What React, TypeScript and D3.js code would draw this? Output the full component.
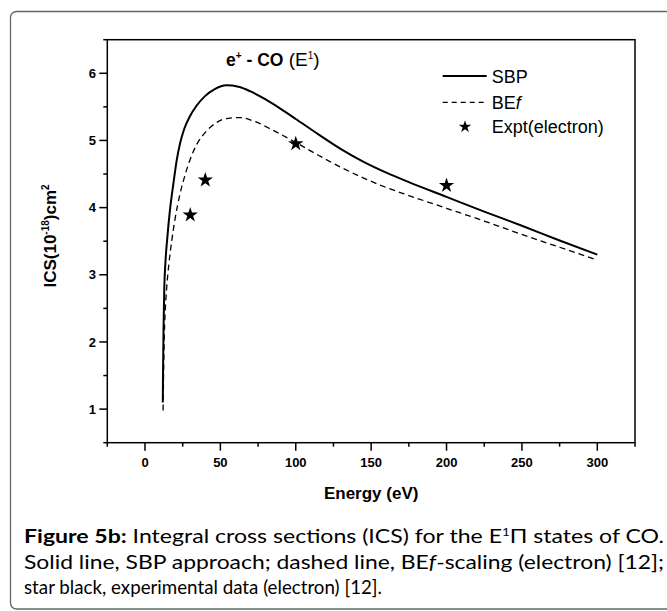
import React from "react";
import * as d3 from "d3";

const sbpEnergy = [11.8, 12.0, 12.3, 12.8, 13.6, 14.8, 16.5, 18.8, 21, 23.2, 26, 29.8, 34.3, 39.8, 46, 54, 62, 70, 80, 90, 100, 115, 130, 145, 160, 175, 200, 225, 250, 275, 300];
const sbpValues = [1.1, 1.6, 2.2, 2.8, 3.2, 3.55, 3.95, 4.35, 4.7, 4.95, 5.17, 5.36, 5.52, 5.66, 5.76, 5.82, 5.8, 5.73, 5.61, 5.47, 5.32, 5.09, 4.87, 4.68, 4.52, 4.38, 4.16, 3.94, 3.73, 3.51, 3.3];

const befEnergy = [12.0, 12.3, 12.7, 13.4, 14.4, 15.8, 17.7, 20, 23.2, 26.5, 30, 34.3, 40, 47, 55, 63, 72, 85, 100, 115, 130, 145, 160, 175, 200, 225, 250, 275, 300];
const befValues = [0.98, 1.5, 2.0, 2.45, 2.81, 3.15, 3.5, 3.84, 4.2, 4.48, 4.72, 4.94, 5.12, 5.26, 5.33, 5.34, 5.29, 5.15, 4.97, 4.78, 4.6, 4.44, 4.3, 4.18, 3.99, 3.8, 3.6, 3.41, 3.22];

const exptEnergy = [30, 40, 100, 200];
const exptValues = [3.89, 4.41, 4.95, 4.33];

const xMajorTicks = [0, 50, 100, 150, 200, 250, 300];
const xMinorTicks = [-25, 25, 75, 125, 175, 225, 275, 325];
const yMajorTicks = [1, 2, 3, 4, 5, 6];
const yMinorTicks = [0.5, 1.5, 2.5, 3.5, 4.5, 5.5, 6.5];

const legendLabels = ["SBP", "BE", "Expt(electron)"];

export default function App() {
  const W = 667, H = 611;
  const left = 107.3, right = 635, top = 39.7, bottom = 442.7;
  const x = d3.scaleLinear().domain([-25, 325]).range([left, right]);
  const y = d3.scaleLinear().domain([0.5, 6.5]).range([bottom, top]);
  const line = d3.line<[number, number]>().x(d => x(d[0])).y(d => y(d[1])).curve(d3.curveMonotoneX);
  const sbp = line(sbpEnergy.map((e, i) => [e, sbpValues[i]]));
  const bef = line(befEnergy.map((e, i) => [e, befValues[i]]));
  const star = d3.symbol().type(d3.symbolStar).size(72)();
  const starSmall = d3.symbol().type(d3.symbolStar).size(48)();
  const axisFont = "Arial, 'Liberation Sans', sans-serif";
  const capFont = "Lato, 'Open Sans', sans-serif";

  return (
    <svg width={W} height={H} style={{ position: "absolute", left: 0, top: 0, background: "#fff" }}>
      <rect x={0} y={0} width={W} height={H} fill="#fff" />
      <path d={`M 672 11.5 H 16.5 A 6 6 0 0 0 10.5 17.5 V 603 A 6 6 0 0 0 16.5 609 H 672`} fill="none" stroke="#666" strokeWidth={1.3} />
      {/* frame */}
      <rect x={left} y={top} width={right - left} height={bottom - top} fill="none" stroke="#000" strokeWidth={1.5} />
      {/* x ticks */}
      {xMajorTicks.map(t => (
        <g key={"xm" + t}>
          <line x1={x(t)} x2={x(t)} y1={bottom} y2={bottom + 8} stroke="#000" strokeWidth={1.5} />
          <text x={x(t)} y={466.7} textAnchor="middle" fontFamily={axisFont} fontWeight="bold" fontSize={13}>{t}</text>
        </g>
      ))}
      {xMinorTicks.map(t => (
        <line key={"xn" + t} x1={x(t)} x2={x(t)} y1={bottom} y2={bottom + 4} stroke="#000" strokeWidth={1.5} />
      ))}
      {yMajorTicks.map(t => (
        <g key={"ym" + t}>
          <line x1={left - 8} x2={left} y1={y(t)} y2={y(t)} stroke="#000" strokeWidth={1.5} />
          <text x={96} y={y(t) + 4.7} textAnchor="end" fontFamily={axisFont} fontWeight="bold" fontSize={13}>{t}</text>
        </g>
      ))}
      {yMinorTicks.map(t => (
        <line key={"yn" + t} x1={left - 4} x2={left} y1={y(t)} y2={y(t)} stroke="#000" strokeWidth={1.5} />
      ))}
      {/* axis titles */}
      <text x={(left + right) / 2} y={499} textAnchor="middle" fontFamily={axisFont} fontWeight="bold" fontSize={17}>Energy (eV)</text>
      <text transform="translate(56,236) rotate(-90)" textAnchor="middle" fontFamily={axisFont} fontWeight="bold" fontSize={17}>
        ICS(10<tspan dy={-7} fontSize={10}>-18</tspan><tspan dy={7}>)cm</tspan><tspan dy={-7} fontSize={10}>2</tspan>
      </text>
      {/* curves */}
      <path d={sbp || ""} fill="none" stroke="#000" strokeWidth={2} />
      <path d={bef || ""} fill="none" stroke="#000" strokeWidth={1.3} strokeDasharray="6,4" />
      {exptEnergy.map((e, i) => (
        <path key={"s" + i} d={star || ""} transform={`translate(${x(e)},${y(exptValues[i])})`} fill="#000" />
      ))}
      {/* title */}
      <text x={226} y={66} fontFamily={axisFont} fontSize={17.5}>
        <tspan fontWeight="bold">e</tspan><tspan fontWeight="bold" dy={-7} fontSize={10}>+</tspan><tspan fontWeight="bold" dy={7}> - CO</tspan>
        <tspan fontSize={19}> (E</tspan><tspan dy={-7} fontSize={10}>1</tspan><tspan dy={7} fontSize={19}>)</tspan>
      </text>
      {/* legend */}
      <line x1={442.7} x2={486.7} y1={76} y2={76} stroke="#000" strokeWidth={2} />
      <text x={491.7} y={82.5} fontFamily={axisFont} fontSize={18}>{legendLabels[0]}</text>
      <line x1={442.7} x2={486.7} y1={102.3} y2={102.3} stroke="#000" strokeWidth={1.3} strokeDasharray="5,4" />
      <text x={491.7} y={108.8} fontFamily={axisFont} fontSize={18}>{legendLabels[1]}<tspan fontStyle="italic">f</tspan></text>
      <path d={starSmall || ""} transform="translate(465,126.7)" fill="#000" />
      <text x={491.7} y={133.2} fontFamily={axisFont} fontSize={18}>{legendLabels[2]}</text>
      {/* caption */}
      <text x={24} y={543} fontFamily={capFont} fontSize={19} textLength={640} lengthAdjust="spacingAndGlyphs">
        <tspan fontWeight="bold">Figure 5b:</tspan> Integral cross sections (ICS) for the E<tspan fontSize={11} dy={-7}>1</tspan><tspan dy={7}>Π states of CO.</tspan>
      </text>
      <text x={24} y={569} fontFamily={capFont} fontSize={19} textLength={640} lengthAdjust="spacingAndGlyphs">
        Solid line, SBP approach; dashed line, BE<tspan fontStyle="italic">f</tspan>-scaling (electron) [12];
      </text>
      <text x={24} y={594} fontFamily={capFont} fontSize={19} textLength={358} lengthAdjust="spacingAndGlyphs">
        star black, experimental data (electron) [12].
      </text>
    </svg>
  );
}
